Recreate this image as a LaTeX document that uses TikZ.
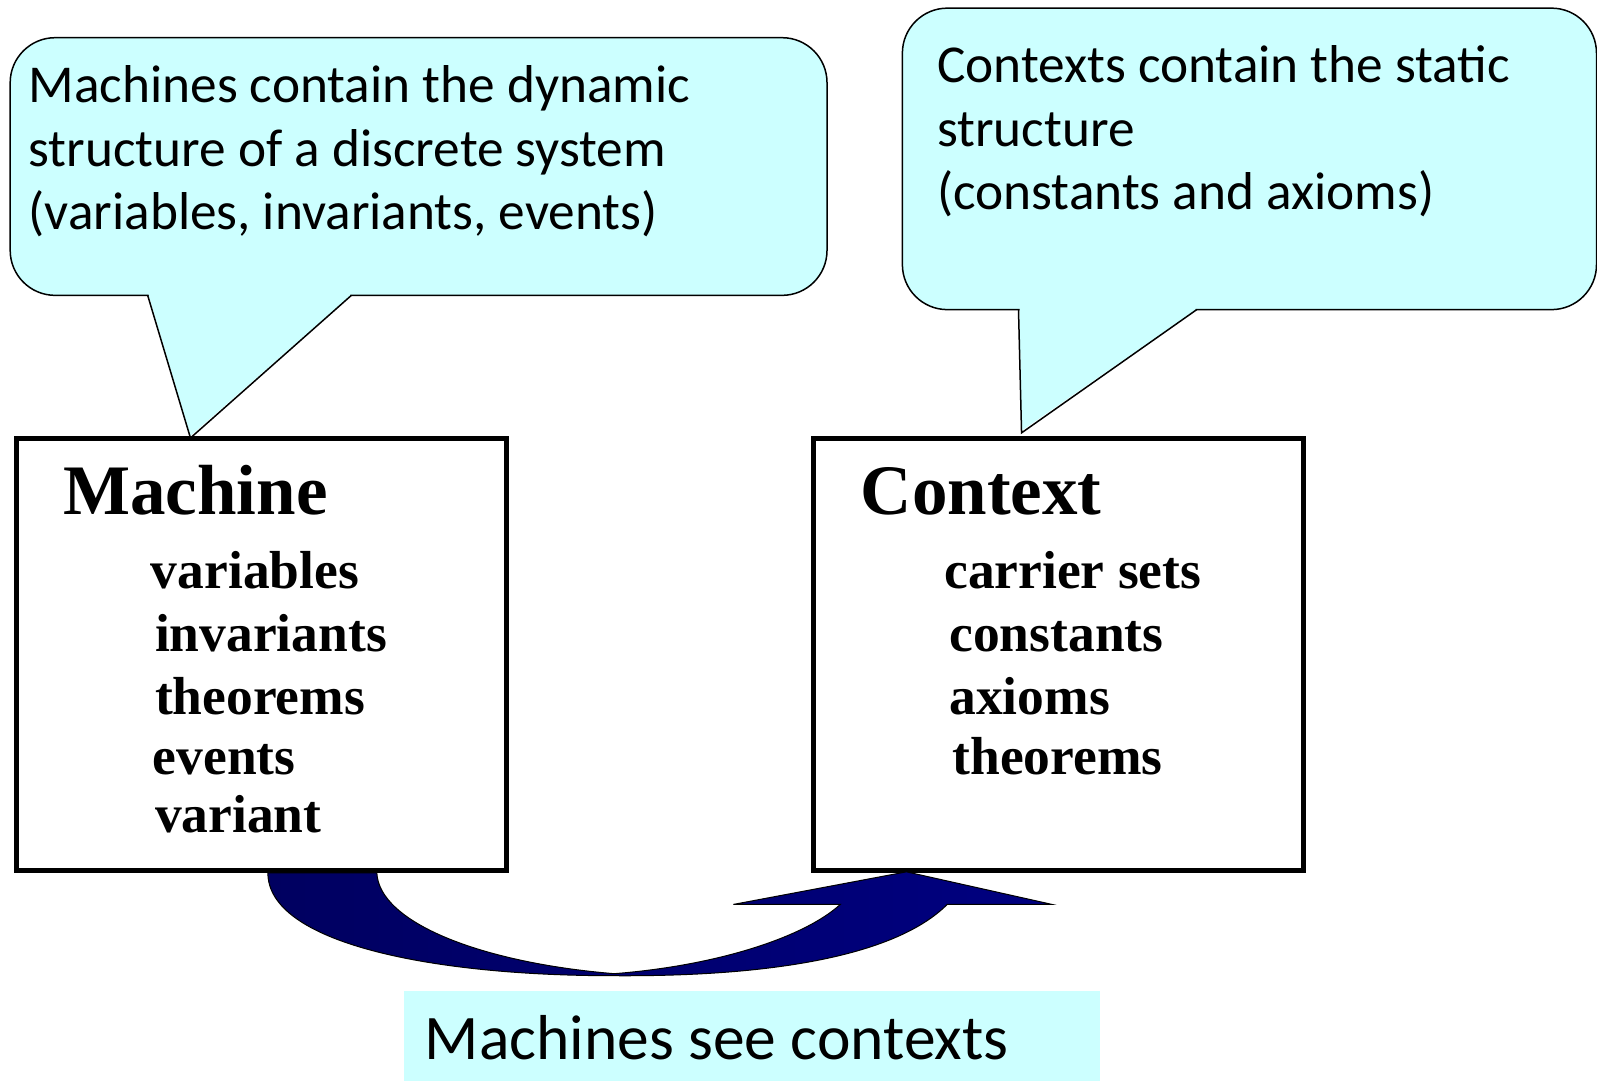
\documentclass[tikz,border=0pt]{standalone}
\usepackage{fontspec}
\setmainfont{Liberation Serif}
\newfontfamily\calib{Carlito}
\definecolor{callcyan}{RGB}{204,255,255}
\definecolor{navyL}{RGB}{0,0,96}
\definecolor{navyR}{RGB}{0,0,128}
\tikzset{
  callout/.style={fill=callcyan, draw=black, line width=1.5pt},
  boxline/.style={draw=black, line width=5pt},
  calltext/.style={anchor=base west, inner sep=0pt, font=\calib\fontsize{53.3}{64}\selectfont},
  titletext/.style={anchor=base west, inner sep=0pt, font=\bfseries\fontsize{71}{71}\selectfont},
  itemtext/.style={anchor=base west, inner sep=0pt, font=\bfseries\fontsize{53.5}{60}\selectfont},
  seetext/.style={anchor=base west, inner sep=0pt, font=\calib\fontsize{63.5}{70}\selectfont},
}
\begin{document}
\begin{tikzpicture}[x=1.0185pt, y=-1.0185pt]
\useasboundingbox (0,0) rectangle (1568,1061);

% --- left speech bubble: rounded body, then the tail, then hide the seam
\draw[callout, rounded corners=45pt] (10,37) rectangle (812,290);
\fill[callcyan] (146,285) -- (146,290) -- (187,428) -- (344,290) -- (344,285) -- cycle;
\draw[line width=1.5pt, line join=miter] (145,290) -- (187,430) -- (345,290);

% --- right speech bubble
\draw[callout, rounded corners=45pt] (886,8) rectangle (1567.5,304);
\fill[callcyan] (1001,299) -- (1001,304) -- (1003,423) -- (1174,304) -- (1174,299) -- cycle;
\draw[line width=1.5pt, line join=miter] (1000,304) -- (1003,425) -- (1175,304);

\node[calltext] (m1) at (28,101) {Machines contain the dynamic};
\node[calltext] (m2) at (28,163) {structure of a discrete system};
\node[calltext] (m3) at (28,225) {(variables, invariants, events)};

\node[calltext] (c1) at (920,81) {Contexts contain the static};
\node[calltext] (c2) at (920,144) {structure};
\node[calltext] (c3) at (920,206) {(constants and axioms)};

% --- the two component boxes
\coordinate (mtl) at (16.5,430.5);
\coordinate (mbr) at (497.5,854.5);
\coordinate (ctl) at (798.5,430.5);
\coordinate (cbr) at (1279.5,854.5);
\draw[boxline] (mtl) rectangle (mbr);
\draw[boxline] (ctl) rectangle (cbr);

\node[titletext] (mach) at (62,505) {Machine};
\node[itemtext] (mv)  at (148,578) {variables};
\node[itemtext] (mi)  at (152,640) {invariants};
\node[itemtext] (mt)  at (152,702) {theorems};
\node[itemtext] (me)  at (150,760) {events};
\node[itemtext] (mva) at (152,817) {variant};

\node[titletext] (ctx) at (845,505) {Context};
\node[itemtext] (cc)  at (927,578) {carrier sets};
\node[itemtext] (cn)  at (932,640) {constants};
\node[itemtext] (ca)  at (932,702) {axioms};
\node[itemtext] (ct)  at (935,760) {theorems};

% --- curved block arrow from Machine to Context
\draw[line width=1pt, left color=navyL, right color=navyR, line join=miter]
  (263,857) -- (370,857)
  .. controls (372,905) and (470,945) .. (603,956)
  .. controls (705,948) and (790,920) .. (825,888)
  -- (720,888) -- (890,856) -- (1033,888) -- (930,888)
  .. controls (880,938) and (760,959) .. (603,958)
  .. controls (420,958) and (263,925) .. cycle;

% --- caption
\fill[callcyan] (397,973) rectangle (1080,1061);
\node[seetext] (see) at (417,1040) {Machines see contexts};
\end{tikzpicture}
\end{document}
